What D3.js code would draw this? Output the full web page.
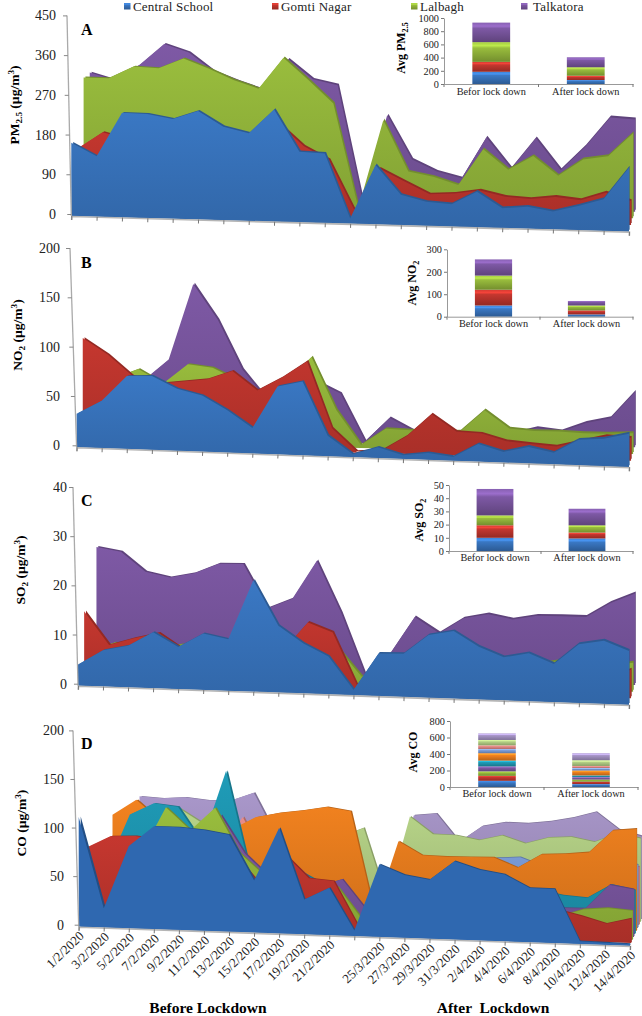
<!DOCTYPE html>
<html>
<head>
<meta charset="utf-8">
<style>
body { margin: 0; background: #fff; }
svg { display: block; font-family: "Liberation Serif", serif; }
</style>
<script src="https://cdn.jsdelivr.net/npm/d3@7"></script>
</head>
<body>
<div id="chart"></div>
<script>
var dates = ["1/2/2020","3/2/2020","5/2/2020","7/2/2020","9/2/2020","11/2/2020","13/2/2020","15/2/2020","17/2/2020","19/2/2020","21/2/2020","",
             "25/3/2020","27/3/2020","29/3/2020","31/3/2020","2/4/2020","4/4/2020","6/4/2020","8/4/2020","10/4/2020","12/4/2020","14/4/2020"];
var stations = ["Central School","Gomti Nagar","Lalbagh","Talkatora"];
var insetCats = ["Befor lock down","After lock down"];

// front to back, one array per station
var pmCentral = [166,137,237,236,226,246,212,199,254,160,158,12,135,69,55,51,81,45,50,41,55,72,145];
var pmGomti   = [147,185,170,175,160,165,150,130,213,163,133,21,116,88,60,63,71,58,54,60,54,72,54];
var pmLalbagh = [302,301,328,325,348,326,301,282,353,303,251,14,215,99,88,70,152,106,138,94,132,140,193];
var pmTalk    = [307,290,325,373,354,311,289,270,340,295,282,22,215,115,88,73,166,96,165,93,147,213,209];

var noCentral = [34,48,74,75,63,57,43,26,69,75,21,3,11,4,7,4,18,11,17,12,26,28,34];
var noGomti   = [108,92,71,64,67,70,79,60,74,91,24,1,3,18,41,24,23,16,14,12,18,24,23];
var noLalbagh = [60,65,75,61,81,78,66,50,66,91,38,3,20,19,18,19,41,23,21,21,20,20,21];
var noTalk    = [50,55,61,82,159,123,73,43,53,62,50,2,26,13,11,11,19,12,18,15,24,29,56];

var soCentral = [4.3,7.4,8.5,11.4,8.6,11.5,10.5,22.7,13.6,10.2,7.7,1.1,8.7,8.8,12.8,13.8,10.8,8.8,9.8,7.8,12,12.9,11];
var soGomti   = [14.6,7.9,9.4,10.6,7.3,8.8,8.2,7,7.8,13.6,11.7,0.8,5,5,3.4,3.5,4.2,3.1,3.9,3.3,4.4,3.8,5.8];
var soLalbagh = [6,7.8,6.4,7.1,7.9,7.4,6.1,6.5,6.2,7.2,7.8,1.9,4.8,5.1,5,5.2,5.3,5,5.1,5.9,5,5.1,5.9];
var soTalk    = [26.6,25.7,21.7,20.6,21.5,23.5,23.5,14.6,16.6,24.4,13.8,1,5.8,13.2,10,13.1,14,13,13.8,13.8,13.7,16.6,18.6];

var coS1  = [113,20,85,106,106,104,100,54,109,36,49,6,75,65,61,81,73,69,56,56,3,2.5,2];
var coS2  = [80,93,94,91,88,85,79,49,81,56,54,8,50,47,45,52,46,44,34,32,26,19,25];
var coS3  = [60,55,75,123,100,124,78,56,71,49,46,13,41,38,35,40,37,31,28,22,30,32,30];
var coS4  = [45,50,70,85,80,115,76,53,67,44,52,21,32,31,30,34,29,26,25,28,28,53,49];
var coS5  = [54,112,124,121,85,159,56,51,58,45,42,7,50,44,41,45,42,39,43,38,36,50,45];
var coS6  = [110,126,105,96,93,97,110,115,118,122,118,13,88,74,73,73,73,63,77,78,80,103,105];
var coS7  = [60,70,80,85,85,90,70,65,75,70,60,8,45,50,55,60,70,71,62,55,60,70,65];
var coS8  = [40,50,82,96,68,107,63,58,60,55,50,9,35,40,45,40,45,50,45,40,50,55,60];
var coS9  = [70,90,114,99,75,68,65,60,70,86,95,21,107,89,88,83,88,80,86,87,82,91,86];
var coS10 = [125,123,124,121,121,129,84,70,60,65,60,12,106,108,79,95,99,98,100,104,110,92,85];

// inset stacked bars, [before, after] for each station
var avgPm = [[185,60],[150,65],[300,130],[295,150]];
var avgNo = [[50,10],[70,18],[63,22],[72,20]];
var avgSo = [[10,9.5],[9.5,4.5],[7.5,5.5],[20,12.5]];
var avgCo = [[75,35],[60,30],[55,25],[60,30],[70,20],[90,60],[50,30],[45,25],[65,70],[80,85]];

var colors = ["#3a78c4","#c5372f","#99bd3d","#7e59a5","#1f9cb8","#f2821f","#7d9fdc","#e88c8a","#b7d488","#a997ca"];

var width = 642, height = 1016;
var svg = d3.select("#chart").append("svg").attr("width", width).attr("height", height);
var defs = svg.append("defs");

colors.forEach(function(c, i) {
    var dark = d3.color(c).darker(0.45);
    var g = defs.append("linearGradient").attr("id", "area" + i)
        .attr("x1", 0).attr("x2", 0).attr("y1", 0).attr("y2", 1);
    g.append("stop").attr("offset", "0%").attr("stop-color", c);
    g.append("stop").attr("offset", "100%").attr("stop-color", dark);

    // bevel look on the inset bars
    var b = defs.append("linearGradient").attr("id", "bar" + i)
        .attr("x1", 0).attr("x2", 0).attr("y1", 0).attr("y2", 1);
    b.append("stop").attr("offset", "0%").attr("stop-color", d3.color(c).brighter(0.2));
    b.append("stop").attr("offset", "18%").attr("stop-color", d3.color(c).brighter(0.6));
    b.append("stop").attr("offset", "30%").attr("stop-color", c);
    b.append("stop").attr("offset", "100%").attr("stop-color", d3.color(c).darker(0.8));
});

var panels = [
    {letter:"A", series:[pmCentral,pmGomti,pmLalbagh,pmTalk], max:450, step:90, h:198.6,
     x0:71.3, x1:629, y0:216, y1:231.7, axisTop:67, dxL:6.15, dxR:2.05, dyL:2.67, dyR:6.67, labelX:56,
     title:[["PM"],["2.5","sub"],[" (\u00b5g/m"],["3","sup"],[")"]], titleX:14, titleY:105, letterY:35,
     avg:avgPm, avgMax:1000, avgStep:200, ax0:444, ax1:633, ay0:84, ay1:18, avgLabelY:99,
     avgTitle:[["Avg PM"],["2.5","sub"]], avgTitleX:405, avgTitleY:48},
    {letter:"B", series:[noCentral,noGomti,noLalbagh,noTalk], max:200, step:50, h:197.3,
     x0:76.6, x1:629, y0:447.3, y1:467.3, axisTop:70, dxL:6.15, dxR:2.05, dyL:2.67, dyR:6.67, labelX:60,
     title:[["NO"],["2","sub"],[" (\u00b5g/m"],["3","sup"],[")"]], titleX:17, titleY:335, letterY:268,
     avg:avgNo, avgMax:300, avgStep:100, ax0:447, ax1:633, ay0:316.7, ay1:249.3, avgLabelY:331,
     avgTitle:[["Avg NO"],["2","sub"]], avgTitleX:416, avgTitleY:283},
    {letter:"C", series:[soCentral,soGomti,soLalbagh,soTalk], max:40, step:10, h:196.7,
     x0:78, x1:629, y0:685.7, y1:705, axisTop:73, dxL:6.15, dxR:2.05, dyL:2.67, dyR:6.67, labelX:67,
     title:[["SO"],["2","sub"],[" (\u00b5g/m"],["3","sup"],[")"]], titleX:20, titleY:570, letterY:506,
     avg:avgSo, avgMax:50, avgStep:10, ax0:449, ax1:633, ay0:551, ay1:485, avgLabelY:565,
     avgTitle:[["Avg SO"],["2","sub"]], avgTitleX:423, avgTitleY:520},
    {letter:"D", series:[coS1,coS2,coS3,coS4,coS5,coS6,coS7,coS8,coS9,coS10], max:200, step:50, h:194.3,
     x0:78.7, x1:630, y0:926.7, y1:946, axisTop:73, dxL:6.76, dxR:1.35, dyL:1, dyR:3, labelX:64,
     title:[["CO  (\u00b5g/m"],["3","sup"],[")"]], titleX:21, titleY:823, letterY:749, blue:"#2f68b0",
     avg:avgCo, avgMax:800, avgStep:200, ax0:450, ax1:638, ay0:787, ay1:721, avgLabelY:801,
     avgTitle:[["Avg CO"]], avgTitleX:417, avgTitleY:752}
];

function add_rich_text(sel, parts, size) {
    parts.forEach(function(p, i) {
        var t = sel.append("tspan").text(p[0]);
        var back = i > 0 && parts[i - 1][1];
        var shift = 0;
        if (back == "sub") shift -= size * 0.25;
        if (back == "sup") shift += size * 0.35;
        if (p[1] == "sub") { shift += size * 0.25; t.attr("font-size", size * 0.68); }
        if (p[1] == "sup") { shift -= size * 0.35; t.attr("font-size", size * 0.68); }
        if (shift) t.attr("dy", shift);
    });
}

function draw_panel(p) {
    var g = svg.append("g");
    var x = d3.scalePoint().domain(dates).range([p.x0, p.x1]);
    var y = d3.scaleLinear().domain([0, p.max]).range([0, -p.h]);
    var last = dates.length - 1;
    var floorY = d3.scaleLinear().domain([0, last]).range([p.y0, p.y1]);
    var depthX = d3.scaleLinear().domain([0, last]).range([p.dxL, p.dxR]);
    var depthY = d3.scaleLinear().domain([0, last]).range([p.dyL, p.dyR]);

    function area_at(k) {
        return d3.area()
            .x(function(d, i) { return x(dates[i]) + k * depthX(i); })
            .y0(function(d, i) { return floorY(i) - k * depthY(i); })
            .y1(function(d, i) { return floorY(i) - k * depthY(i) + y(d); });
    }

    // back series first so the front ones cover them
    d3.range(p.series.length - 1, -1, -1).forEach(function(k) {
        var base = (k == 0 && p.blue) ? p.blue : colors[k];
        g.append("path").attr("d", area_at(k + 0.3)(p.series[k]))
            .attr("fill", d3.color(base).darker(0.8));
        g.append("path").attr("d", area_at(k)(p.series[k]))
            .attr("fill", (k == 0 && p.blue) ? "#2f68b0" : "url(#area" + k + ")");
    });

    // tilted floor axis
    var angle = Math.atan2(p.y1 - p.y0, p.x1 - p.x0) * 180 / Math.PI;
    var xAxis = g.append("g")
        .attr("transform", "translate(" + p.x0 + "," + p.y0 + ") rotate(" + angle + ")")
        .call(d3.axisBottom(d3.scalePoint().domain(dates).range([0, Math.hypot(p.x1 - p.x0, p.y1 - p.y0)]))
              .tickSizeOuter(0).tickSize(4).tickFormat(p.letter == "D" ? null : ""));
    xAxis.select(".domain").attr("stroke", "#b5b5b5").attr("stroke-width", 1.6);
    xAxis.selectAll(".tick line").attr("stroke", "#777");
    xAxis.selectAll("text")
        .attr("transform", "rotate(-46)")
        .attr("text-anchor", "end")
        .attr("x", -3).attr("y", 7).attr("dy", "0.32em")
        .attr("font-family", "Liberation Serif").attr("font-size", 13).attr("fill", "#222");

    // slanted value axis
    var yTop = p.y0 - p.h - 2;
    var slant = d3.scaleLinear().domain([p.y0, yTop]).range([p.x0, p.axisTop]);
    g.append("line").attr("x1", p.x0).attr("y1", p.y0).attr("x2", p.axisTop).attr("y2", yTop)
        .attr("stroke", "#aaa").attr("stroke-width", 1.3);
    var yScale = d3.scaleLinear().domain([0, p.max]).range([p.y0 - 1.5, p.y0 - 1.5 - p.h]);
    var yAxis = g.append("g")
        .call(d3.axisLeft(yScale).tickValues(d3.range(0, p.max + 1, p.step)).tickSize(4).tickPadding(0));
    yAxis.select(".domain").remove();
    yAxis.selectAll(".tick")
        .attr("transform", function(d) { return "translate(" + slant(yScale(d)) + "," + yScale(d) + ")"; });
    yAxis.selectAll(".tick line").attr("stroke", "#888");
    yAxis.selectAll(".tick text")
        .attr("x", function(d) { return p.labelX - slant(yScale(d)); })
        .attr("font-family", "Liberation Serif").attr("font-size", 14).attr("fill", "#222");

    g.append("text").attr("x", 81).attr("y", p.letterY)
        .attr("font-weight", "bold").attr("font-size", 16).text(p.letter);

    var title = g.append("text")
        .attr("transform", "translate(" + (p.titleX + 5) + "," + p.titleY + ") rotate(-90)")
        .attr("text-anchor", "middle").attr("font-weight", "bold").attr("font-size", 13.5);
    add_rich_text(title, p.title, 13.5);

    draw_inset(p);
}

function draw_inset(p) {
    var g = svg.append("g");
    var x = d3.scaleBand().domain(insetCats).range([p.ax0, p.ax1]).paddingInner(0.6).paddingOuter(0.3);
    var y = d3.scaleLinear().domain([0, p.avgMax]).range([p.ay0, p.ay1]);
    var keys = d3.range(p.avg.length);
    var rows = insetCats.map(function(c, j) {
        var r = {cat: c};
        keys.forEach(function(k) { r[k] = p.avg[k][j]; });
        return r;
    });
    var stacked = d3.stack().keys(keys)(rows);

    stacked.forEach(function(layer, k) {
        g.selectAll(null).data(layer).enter().append("rect")
            .attr("x", function(d) { return x(d.data.cat); })
            .attr("width", x.bandwidth())
            .attr("y", function(d) { return y(d[1]); })
            .attr("height", function(d) { return y(d[0]) - y(d[1]); })
            .attr("fill", "url(#bar" + k + ")");
    });

    var ya = g.append("g").attr("transform", "translate(" + p.ax0 + ",0)")
        .call(d3.axisLeft(y).tickValues(d3.range(0, p.avgMax + 1, p.avgStep)).tickFormat(d3.format("d"))
              .tickSize(3).tickSizeOuter(0).tickPadding(2));
    var xa = g.append("g").attr("transform", "translate(0," + p.ay0 + ")")
        .call(d3.axisBottom(x).tickSize(0).tickPadding(6));
    xa.selectAll(".tick text").attr("y", p.avgLabelY - p.ay0 - 4).attr("dy", 0);
    [ya, xa].forEach(function(a) {
        a.select(".domain").attr("stroke", "#999");
        a.selectAll("line").attr("stroke", "#777");
        a.selectAll("text").attr("font-family", "Liberation Serif").attr("font-size", 10.3).attr("fill", "#222");
    });
    // tick marks at the band edges of the category axis
    g.selectAll(null).data([p.ax0, (p.ax0 + p.ax1) / 2, p.ax1]).enter().append("line")
        .attr("x1", function(d) { return d; }).attr("x2", function(d) { return d; })
        .attr("y1", p.ay0).attr("y2", p.ay0 + 3).attr("stroke", "#777");

    var title = g.append("text")
        .attr("transform", "translate(" + p.avgTitleX + "," + p.avgTitleY + ") rotate(-90)")
        .attr("text-anchor", "middle").attr("font-weight", "bold").attr("font-size", 12);
    add_rich_text(title, p.avgTitle, 12);
}

panels.forEach(draw_panel);

// legend
var legendX = d3.scaleOrdinal().domain(stations).range([124, 272, 411, 521]);
var legendGap = d3.scaleOrdinal().domain(stations).range([9, 9, 9, 12]);
var legend = svg.append("g").selectAll("g").data(stations).enter().append("g");
legend.append("rect")
    .attr("x", function(d) { return legendX(d); }).attr("y", 3)
    .attr("width", 6.5).attr("height", 6.5)
    .attr("fill", function(d, i) { return "url(#bar" + i + ")"; });
legend.append("text")
    .attr("x", function(d) { return legendX(d) + legendGap(d); }).attr("y", 11)
    .attr("font-size", 13).attr("letter-spacing", 0.2).attr("fill", "#222")
    .text(function(d) { return d; });

svg.append("text").attr("x", 208).attr("y", 1013).attr("text-anchor", "middle")
    .attr("font-weight", "bold").attr("font-size", 15.5).text("Before Lockdown");
svg.append("text").attr("x", 493).attr("y", 1013).attr("text-anchor", "middle")
    .attr("font-weight", "bold").attr("font-size", 15.5).attr("xml:space", "preserve").text("After  Lockdown");
</script>
</body>
</html>
